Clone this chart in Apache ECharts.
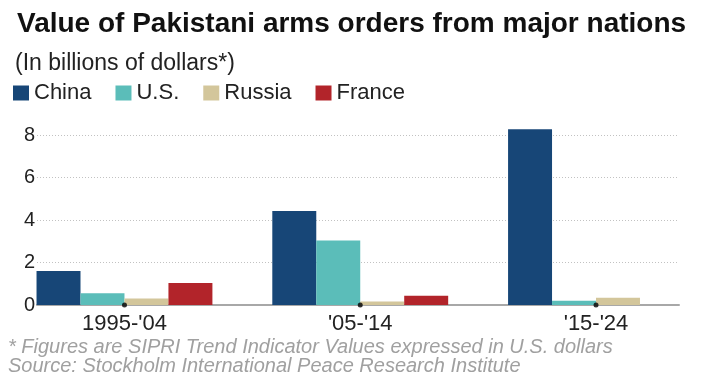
<!DOCTYPE html>
<html>
<head>
<meta charset="utf-8">
<script src="https://cdn.jsdelivr.net/npm/echarts@6/dist/echarts.min.js"></script>
<style>
  html, body { margin: 0; padding: 0; background: #fff; }
  #chart { width: 718px; height: 376px; }
</style>
</head>
<body>
<div id="chart"></div>
<script>
// periods on the x axis (placed at 0, 1, 2)
var periods = ['1995-\'04', '\'05-\'14', '\'15-\'24']
var periodPos = [0, 1, 2]
// billions of dollars (SIPRI TIV)
var china = [1.6, 4.42, 8.27]
var us = [0.55, 3.03, 0.2]
var russia = [0.31, 0.16, 0.34]
var france = [1.03, 0.44, 0]
var yTicks = [0, 2, 4, 6, 8]

var font = '"Liberation Sans", Arial, sans-serif'

function pairs(vals) {
  return vals.map(function (v, i) { return [periodPos[i], v] })
}

function barSeries(name, vals, color) {
  return {
    name: name,
    type: 'bar',
    data: pairs(vals),
    barGap: 0,
    barCategoryGap: '25.4%',
    clip: false, // China '15-'24 goes above the 8 line
    itemStyle: { color: color },
    emphasis: { disabled: true }
  }
}

var chart = echarts.init(document.getElementById('chart'))
chart.setOption({
  animation: false,
  textStyle: { fontFamily: font },
  title: [
    {
      text: 'Value of Pakistani arms orders from major nations',
      left: 12, top: 5,
      textStyle: { fontSize: 28, fontWeight: 'bold', color: '#111', fontFamily: font }
    },
    {
      text: '(In billions of dollars*)',
      left: 10, top: 47,
      textStyle: { fontSize: 23, fontWeight: 'normal', color: '#222', fontFamily: font }
    },
    {
      text: '* Figures are SIPRI Trend Indicator Values expressed in U.S. dollars',
      left: 3, top: 332,
      textStyle: { fontSize: 20, fontWeight: 'normal', fontStyle: 'italic', color: '#a0a0a0', fontFamily: font }
    },
    {
      text: 'Source: Stockholm International Peace Research Institute',
      left: 3, top: 351,
      textStyle: { fontSize: 20, fontWeight: 'normal', fontStyle: 'italic', color: '#a0a0a0', fontFamily: font }
    }
  ],
  legend: {
    left: 13, top: 82,
    padding: 0,
    icon: 'rect',
    itemWidth: 16, itemHeight: 15,
    itemGap: 24,
    selectedMode: false,
    data: ['China', 'U.S.', 'Russia', 'France'],
    textStyle: { fontSize: 22, color: '#222' }
  },
  grid: { left: 37, right: 39, top: 135, bottom: 71, containLabel: false },
  xAxis: {
    type: 'value',
    min: -0.371,
    max: 2.352,
    axisLine: { show: true, onZero: false, lineStyle: { color: '#a8a8a8', width: 2 } },
    axisTick: { show: false },
    splitLine: { show: false },
    axisLabel: {
      customValues: periodPos,
      formatter: function (v) { return periods[Math.round(v)] },
      fontSize: 22, color: '#222', margin: 8
    }
  },
  yAxis: {
    type: 'value',
    min: 0, max: 8, interval: 2,
    axisLine: { show: false },
    axisTick: { show: false },
    axisLabel: {
      fontSize: 20, color: '#222', margin: 2,
      customValues: yTicks
    },
    splitLine: { lineStyle: { color: '#c2c2c2', type: [1, 2], width: 1 } }
  },
  series: [
    barSeries('China', china, '#174677'),
    barSeries('U.S.', us, '#5bbdb9'),
    barSeries('Russia', russia, '#d3c69b'),
    barSeries('France', france, '#b2242a'),
    {
      type: 'scatter',
      data: periodPos.map(function (p) { return [p, 0] }),
      symbol: 'circle',
      symbolSize: 5,
      itemStyle: { color: '#000' },
      z: 10,
      silent: true
    }
  ]
})
</script>
</body>
</html>
